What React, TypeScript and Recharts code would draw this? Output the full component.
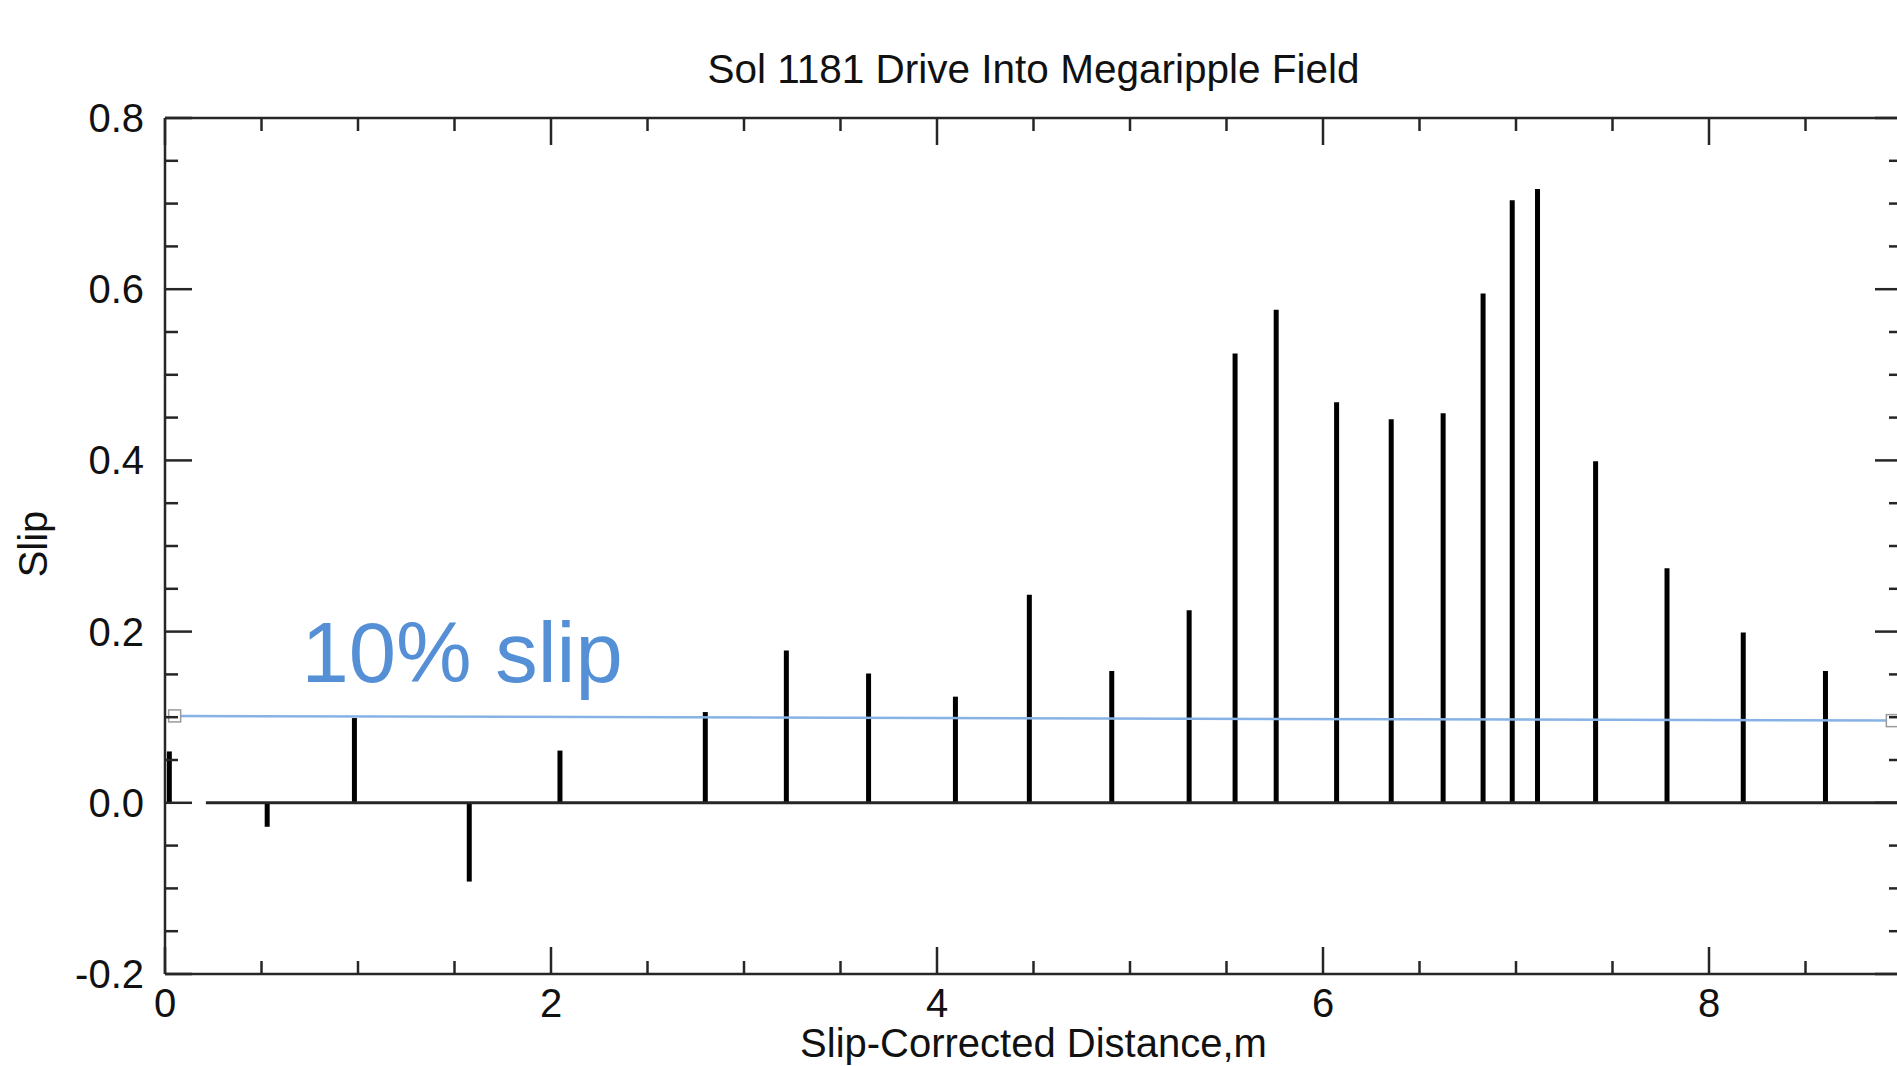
import React from 'react';
import { ComposedChart, Bar, Line, XAxis, YAxis, ReferenceLine, ReferenceDot } from 'recharts';

// ---- data ----
const distance = [0.023, 0.53, 0.982, 1.577, 2.047, 2.8, 3.22, 3.646, 4.096, 4.479, 4.906, 5.307, 5.545, 5.758, 6.071, 6.354, 6.623, 6.83, 6.981, 7.112, 7.413, 7.783, 8.178, 8.604];
const slipValues = [0.06, -0.028, 0.099, -0.092, 0.061, 0.106, 0.178, 0.151, 0.124, 0.243, 0.154, 0.225, 0.525, 0.576, 0.468, 0.448, 0.455, 0.595, 0.704, 0.717, 0.399, 0.274, 0.199, 0.154];

const thresholdX = [0.05, 8.95];
const thresholdY = [0.1015, 0.096];

const zeroLineX = [0.212, 9];

const xAllTicks = [0, 0.5, 1, 1.5, 2, 2.5, 3, 3.5, 4, 4.5, 5, 5.5, 6, 6.5, 7, 7.5, 8, 8.5];
const xMajorTicks = [0, 2, 4, 6, 8];
const xTickLabels = ['0', '2', '4', '6', '8'];

const yAllTicks = [-0.2, -0.15, -0.1, -0.05, 0, 0.05, 0.1, 0.15, 0.2, 0.25, 0.3, 0.35, 0.4, 0.45, 0.5, 0.55, 0.6, 0.65, 0.7, 0.75, 0.8];
const yMajorTicks = [-0.2, 0, 0.2, 0.4, 0.6, 0.8];
const yTickLabels = ['-0.2', '0.0', '0.2', '0.4', '0.6', '0.8'];

const chartTitle = 'Sol 1181 Drive Into Megaripple Field';
const xTitle = 'Slip-Corrected Distance,m';
const yTitle = 'Slip';
const annotation = '10% slip';
const annotationPos = { x: 0.707, y: 0.141 };

const data = distance.map((x, i) => ({ x, slip: slipValues[i] }));
const thresholdData = thresholdX.map((x, i) => ({ x, slip: thresholdY[i] }));

// ---- styles ----
const FONT = '"Liberation Sans", Arial, Helvetica, sans-serif';
const AXIS = '#262626';
const AXW = 2.5;
const TEXT = '#111';
const MAJOR = 27;
const MINOR = 13;

const majorIndex = (v: number, majors: number[]) => majors.findIndex((m) => Math.abs(m - v) < 1e-9);

const BottomTick = (props: any) => {
  const { x, y, payload } = props;
  const idx = majorIndex(payload.value, xMajorTicks);
  const major = idx >= 0;
  return (
    <g>
      <line x1={x} x2={x} y1={y} y2={y - (major ? MAJOR : MINOR)} stroke={AXIS} strokeWidth={AXW} />
      {major && (
        <text x={x} y={y + 43} textAnchor="middle" fontSize={40} fontFamily={FONT} fill={TEXT}>
          {xTickLabels[idx]}
        </text>
      )}
    </g>
  );
};

const TopTick = (props: any) => {
  const { x, y, payload } = props;
  const major = majorIndex(payload.value, xMajorTicks) >= 0;
  return <line x1={x} x2={x} y1={y} y2={y + (major ? MAJOR : MINOR)} stroke={AXIS} strokeWidth={AXW} />;
};

const LeftTick = (props: any) => {
  const { x, y, payload } = props;
  const idx = majorIndex(payload.value, yMajorTicks);
  const major = idx >= 0;
  return (
    <g>
      <line x1={x} x2={x + (major ? MAJOR : MINOR)} y1={y} y2={y} stroke={AXIS} strokeWidth={AXW} />
      {major && (
        <text x={x - 21} y={y + 14} textAnchor="end" fontSize={40} fontFamily={FONT} fill={TEXT}>
          {yTickLabels[idx]}
        </text>
      )}
    </g>
  );
};

const RightTick = (props: any) => {
  const { x, y, payload } = props;
  const major = majorIndex(payload.value, yMajorTicks) >= 0;
  return <line x1={x} x2={x - (major ? MAJOR : MINOR)} y1={y} y2={y} stroke={AXIS} strokeWidth={AXW} />;
};

const TitleLabel = (props: any) => {
  const vb = props.viewBox || {};
  return (
    <text x={vb.x + vb.width / 2} y={83} textAnchor="middle" fontSize={40.5} fontFamily={FONT} fill={TEXT}>
      {chartTitle}
    </text>
  );
};

const XTitleLabel = (props: any) => {
  const vb = props.viewBox || {};
  return (
    <text x={vb.x + vb.width / 2} y={vb.y + 83} textAnchor="middle" fontSize={40} fontFamily={FONT} fill={TEXT}>
      {xTitle}
    </text>
  );
};

const YTitleLabel = (props: any) => {
  const vb = props.viewBox || {};
  const cx = vb.x + 47;
  const cy = vb.y + vb.height / 2 - 2;
  return (
    <text x={cx} y={cy} transform={`rotate(-90 ${cx} ${cy})`} textAnchor="middle" fontSize={40} fontFamily={FONT} fill={TEXT}>
      {yTitle}
    </text>
  );
};

const AnnotationLabel = (props: any) => {
  const vb = props.viewBox || {};
  const x = vb.x + (vb.width || 0) / 2;
  const y = vb.y + (vb.height || 0) / 2;
  return (
    <text x={x} y={y} textAnchor="start" fontSize={85} fontFamily={FONT} fill="#5590D6">
      {annotation}
    </text>
  );
};

const SquareDot = (props: any) => {
  const { cx, cy, index } = props;
  if (cx == null || cy == null) return <g key={`d${index}`} />;
  return <rect key={`d${index}`} x={cx - 6} y={cy - 6} width={12} height={12} fill="#fff" stroke="#9a9a9a" strokeWidth={1.5} />;
};

export default function App() {
  return (
    <div style={{ position: 'absolute', left: 0, top: 0, width: 1897, height: 1066, overflow: 'hidden', background: '#fff' }}>
      <ComposedChart width={1960} height={1066} data={data} margin={{ top: 0, right: 0, bottom: 0, left: 0 }}>
        <XAxis
          type="number"
          dataKey="x"
          domain={[0, 9]}
          allowDataOverflow
          ticks={xAllTicks}
          interval={0}
          height={92}
          tickSize={0}
          tickMargin={0}
          tickLine={false}
          tick={BottomTick}
          axisLine={{ stroke: AXIS, strokeWidth: AXW }}
          label={XTitleLabel}
        />
        <XAxis
          xAxisId="top"
          orientation="top"
          type="number"
          dataKey="x"
          domain={[0, 9]}
          allowDataOverflow
          ticks={xAllTicks}
          interval={0}
          height={118}
          tickSize={0}
          tickMargin={0}
          tickLine={false}
          tick={TopTick}
          axisLine={{ stroke: AXIS, strokeWidth: AXW }}
          label={TitleLabel}
        />
        <YAxis
          type="number"
          domain={[-0.2, 0.8]}
          allowDataOverflow
          ticks={yAllTicks}
          interval={0}
          width={165}
          tickSize={0}
          tickMargin={0}
          tickLine={false}
          tick={LeftTick}
          axisLine={{ stroke: AXIS, strokeWidth: AXW }}
          label={YTitleLabel}
        />
        <YAxis
          yAxisId="right"
          orientation="right"
          type="number"
          domain={[-0.2, 0.8]}
          allowDataOverflow
          ticks={yAllTicks}
          interval={0}
          width={58}
          tickSize={0}
          tickMargin={0}
          tickLine={false}
          tick={RightTick}
          axisLine={{ stroke: AXIS, strokeWidth: AXW }}
        />
        <ReferenceLine
          segment={[{ x: zeroLineX[0], y: 0 }, { x: zeroLineX[1], y: 0 }]}
          stroke={AXIS}
          strokeWidth={3}
          ifOverflow="visible"
        />
        <Bar dataKey="slip" barSize={5} fill="#000" isAnimationActive={false} />
        <Line
          data={thresholdData}
          dataKey="slip"
          type="linear"
          stroke="#86B2E6"
          strokeWidth={2.5}
          dot={SquareDot}
          activeDot={false}
          isAnimationActive={false}
        />
        <ReferenceDot x={annotationPos.x} y={annotationPos.y} r={0} fill="none" stroke="none" label={AnnotationLabel} />
      </ComposedChart>
    </div>
  );
}
